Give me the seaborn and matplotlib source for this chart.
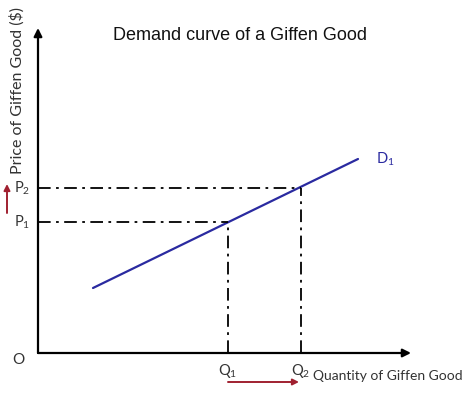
import matplotlib
matplotlib.use("Agg")
import matplotlib.pyplot as plt
import seaborn as sns
import pandas as pd

# demand curve end points (quantity, price) in chart units, origin at O
quantity = [55, 320]
price = [65, 194]
# the two price / quantity levels marked on the axes
q_levels = [190, 263]
p_levels = [131, 165]
q_labels = ["$\\mathregular{Q_1}$", "$\\mathregular{Q_2}$"]
p_labels = ["$\\mathregular{P_1}$", "$\\mathregular{P_2}$"]

sns.set_style("white")
plt.rcParams['font.family'] = ['Lato', 'DejaVu Sans']
plt.rcParams['mathtext.fontset'] = 'custom'
plt.rcParams['mathtext.rm'] = 'Lato'

fig = plt.figure(figsize=(4.74, 3.94), dpi=100)
ax = fig.add_axes([38 / 474, 41 / 394, 436 / 474, 353 / 394])
ax.set_xlim(0, 436)
ax.set_ylim(0, 353)
ax.axis("off")

df = pd.DataFrame({"Quantity": quantity, "Price": price})
sns.lineplot(data=df, x="Quantity", y="Price", color="#2a2aa0", lw=1.6, ax=ax)

# axes with arrows
ax.annotate("", xy=(373, 0), xytext=(0, 0),
            arrowprops=dict(arrowstyle="-|>", color="black", lw=1.6,
                            mutation_scale=12, shrinkA=0, shrinkB=0))
ax.annotate("", xy=(0, 325), xytext=(0, 0),
            arrowprops=dict(arrowstyle="-|>", color="black", lw=1.6,
                            mutation_scale=12, shrinkA=0, shrinkB=0))

# dash-dot guide lines
for q, p in zip(q_levels, p_levels):
    ax.plot([0, q], [p, p], color="black", lw=1.3, ls=(0, (7, 3, 1.5, 3)))
    ax.plot([q, q], [0, p], color="black", lw=1.3, ls=(0, (7, 3, 1.5, 3)))

for p, lab in zip(p_levels, p_labels):
    ax.text(-8, p, lab, ha="right", va="center", fontsize=10.5, color="#333333")
for q, lab in zip(q_levels, q_labels):
    ax.text(q, -9, lab, ha="center", va="top", fontsize=10.5, color="#333333")

ax.text(-20, -7, "O", ha="center", va="center", fontsize=11, color="#333333")
ax.text(338, 194, "$\\mathregular{D_1}$", color="#2a2aa0", fontsize=10.5,
        ha="left", va="center")
ax.text(275, -23, "Quantity of Giffen Good", ha="left", va="center",
        fontsize=10, color="#333333")

# red arrows showing the increase
ax.annotate("", xy=(-31, 169), xytext=(-31, 140),
            arrowprops=dict(arrowstyle="-|>", color="#a02030", lw=1.4,
                            mutation_scale=9, shrinkA=0, shrinkB=0),
            annotation_clip=False)
ax.annotate("", xy=(261, -29), xytext=(190, -29),
            arrowprops=dict(arrowstyle="-|>", color="#a02030", lw=1.4,
                            mutation_scale=9, shrinkA=0, shrinkB=0),
            annotation_clip=False)

fig.text(240 / 474, 1 - 36 / 394, "Demand curve of a Giffen Good",
         ha="center", va="center", fontsize=13, color="#111111",
         family="Liberation Sans")
fig.text(17 / 474, 1 - 90 / 394, "Price of Giffen Good ($)", rotation=90,
         ha="center", va="center", fontsize=11.5, color="#333333")

fig.savefig("out.png", dpi=100)
